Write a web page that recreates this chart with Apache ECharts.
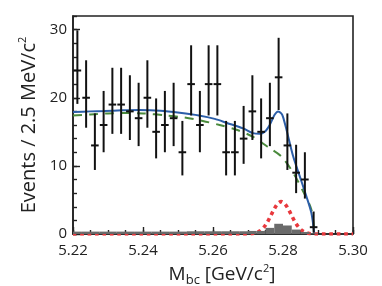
<!DOCTYPE html>
<html><head><meta charset="utf-8">
<script src="https://cdn.jsdelivr.net/npm/echarts@6/dist/echarts.min.js"></script>
<style>html,body{margin:0;padding:0;background:#fff}#c{width:382px;height:286px}</style>
</head><body><div id="c"></div><script>
// ---- data ----
const binCenters = [5.22125,5.22375,5.22625,5.22875,5.23125,5.23375,5.23625,5.23875,5.24125,5.24375,5.24625,5.24875,5.25125,5.25375,5.25625,5.25875,5.26125,5.26375,5.26625,5.26875,5.27125,5.27375,5.27625,5.27875,5.28125,5.28375,5.28625,5.28875];
const counts  = [24,20,13,16,19,19,18,17,20,15,16,17,12,22,16,22,22,12,12,14,18,15,17,23,13,9,8,1];
const errLow  = [19.1,15.6,9.4,12.0,14.7,14.7,13.8,12.9,15.6,11.1,12.0,12.9,8.6,17.4,12.0,17.4,17.4,8.6,8.6,10.3,13.8,11.1,12.9,18.2,9.4,6.0,5.2,0.2];
const errHigh = [29.9,25.5,17.7,21.0,24.4,24.4,23.3,22.2,25.5,19.9,21.0,22.2,16.6,27.7,21.0,27.7,27.7,16.6,16.6,18.8,23.3,19.9,22.2,28.8,17.7,13.1,12.0,3.3];
const peakingBkg = [0.35,0.35,0.35,0.35,0.35,0.35,0.35,0.35,0.35,0.35,0.35,0.35,0.35,0.4,0.4,0.4,0.4,0.4,0.4,0.4,0.45,0.45,0.9,1.5,1.25,0.65,0.3,0.1];
const binHalfWidth = 0.00125;

const totalX = [5.2200,5.2250,5.2290,5.2340,5.2390,5.2450,5.2505,5.2560,5.2605,5.2640,5.2686,5.2714,5.2733,5.2748,5.2762,5.2776,5.2786,5.2795,5.2800,5.2810,5.2829,5.2848,5.2867,5.2881,5.2889];
const totalY = [17.9,18.0,18.05,18.15,18.2,18.1,17.8,17.4,16.9,16.3,15.5,14.8,14.7,15.0,16.0,17.5,18.0,17.7,17.2,15.3,11.4,8.45,5.5,3.1,0.2];

const bkgX = [5.2200,5.2250,5.2300,5.2350,5.2400,5.2467,5.2519,5.2571,5.2619,5.2667,5.2713,5.2756,5.2795,5.2829,5.2857,5.2881,5.2889];
const bkgY = [17.4,17.55,17.7,17.75,17.7,17.4,17.1,16.6,16.0,15.3,14.3,12.8,11.4,9.0,6.3,3.6,0.6];

const sigX = [5.2200,5.2680,5.2715,5.2725,5.2735,5.2745,5.2755,5.2765,5.2775,5.2785,5.2795,5.2805,5.2815,5.2825,5.2835,5.2845,5.2855,5.2865,5.2875,5.2890,5.3000];
const sigY = [0,0,0.08,0.21,0.48,0.97,1.71,2.68,3.68,4.46,4.75,4.46,3.68,2.68,1.71,0.97,0.48,0.21,0.08,0,0];

const xTickLabels = ['5.22','5.24','5.26','5.28','5.30'];
const yTickLabels = ['0','10','20','30'];

// ---- chart ----
const FONT = 'Open Sans';
const zip = (a,b) => a.map((v,i)=>[v,b[i]]);
const chart = echarts.init(document.getElementById('c'), null, {renderer:'canvas'});
const axisCommon = {type:'value', min:5.22, max:5.30, splitLine:{show:false}};
chart.setOption({
  animation:false,
  backgroundColor:'#fff',
  grid:{left:73, right:29, top:16, bottom:52, outerBoundsMode:'none', containLabel:false,
    show:true, borderColor:'#222', borderWidth:1.6, backgroundColor:'transparent'},
  xAxis:[
    Object.assign({}, axisCommon, {
      position:'bottom', interval:0.02,
      axisLine:{show:true, lineStyle:{color:'#222', width:1.6}},
      axisTick:{show:true, inside:true, length:7, lineStyle:{color:'#222', width:1.4}},
      axisLabel:{margin:9, color:'#222', fontSize:15, fontFamily:FONT,
        formatter:v=>{const s=v.toFixed(2); return xTickLabels.includes(s)?s:'';}},
      name:'{t|M}{b|bc}{t| [GeV/c}{s|2}{t|]}', nameLocation:'middle', nameGap:28,
      nameTextStyle:{padding:[0,0,0,18], rich:{
        t:{fontSize:19, fontFamily:FONT, color:'#222', lineHeight:24},
        b:{fontSize:13, fontFamily:FONT, color:'#222', verticalAlign:'bottom', lineHeight:18},
        s:{fontSize:11, fontFamily:FONT, color:'#222', verticalAlign:'top', lineHeight:14}}}
    }),
    Object.assign({}, axisCommon, {
      position:'bottom', interval:0.005,
      axisLine:{show:false},
      axisTick:{show:true, inside:true, length:4, lineStyle:{color:'#222', width:1.4}},
      axisLabel:{show:false}
    })
  ],
  yAxis:[
    {type:'value', min:0, max:32, interval:10, position:'left', splitLine:{show:false},
      axisLine:{show:true, lineStyle:{color:'#222', width:1.6}},
      axisTick:{show:true, inside:true, length:7, lineStyle:{color:'#222', width:1.4}},
      axisLabel:{margin:6, color:'#222', fontSize:15, fontFamily:FONT, showMaxLabel:false,
        formatter:v=>{const s=String(v); return yTickLabels.includes(s)?s:'';}},
      name:'{t|Events / 2.5 MeV/c}{s|2}', nameLocation:'middle', nameRotate:90, nameGap:27,
      nameTextStyle:{rich:{
        t:{fontSize:20, fontFamily:FONT, color:'#222', lineHeight:24},
        s:{fontSize:11, fontFamily:FONT, color:'#222', verticalAlign:'top', lineHeight:14}}}
    },
    {type:'value', min:0, max:32, interval:2, position:'left', splitLine:{show:false},
      axisLine:{show:false},
      axisTick:{show:true, inside:true, length:4, lineStyle:{color:'#222', width:1.4}},
      axisLabel:{show:false}
    }
  ],
  series:[
    {type:'line', name:'signal', xAxisIndex:0, yAxisIndex:0, z:2, data:zip(sigX,sigY),
      showSymbol:false, smooth:0.3, lineStyle:{color:'#e8383d', width:3.6, type:[3.6,3.8], cap:'butt'}},
    {type:'custom', name:'peaking', xAxisIndex:0, yAxisIndex:0, z:3,
      data: binCenters.map((x,i)=>[x, peakingBkg[i]]),
      encode:{x:0, y:1},
      renderItem:(params, api)=>{
        const x=api.value(0), h=api.value(1);
        const p0=api.coord([x-binHalfWidth,0]), p1=api.coord([x+binHalfWidth,h]);
        return {type:'rect', shape:{x:p0[0], y:p1[1], width:p1[0]-p0[0], height:p0[1]-p1[1]},
          style:{fill:'#6a6a6a'}};
      }},
    {type:'line', name:'background', xAxisIndex:0, yAxisIndex:0, z:4, data:zip(bkgX,bkgY),
      showSymbol:false, smooth:0.3, lineStyle:{color:'#4a8a3c', width:2, type:[9,7]}},
    {type:'line', name:'total', xAxisIndex:0, yAxisIndex:0, z:5, data:zip(totalX,totalY),
      showSymbol:false, smooth:0.3, lineStyle:{color:'#2c5ea8', width:2}},
    {type:'custom', name:'data', xAxisIndex:0, yAxisIndex:0, z:6,
      data: binCenters.map((x,i)=>[x, counts[i], errLow[i], errHigh[i]]),
      encode:{x:0, y:1},
      renderItem:(params, api)=>{
        const x=api.value(0), y=api.value(1), lo=api.value(2), hi=api.value(3);
        const pt=api.coord([x,hi]), pb=api.coord([x,lo]), pc=api.coord([x,y]);
        return {type:'group', children:[
          {type:'line', shape:{x1:pt[0],y1:pt[1],x2:pb[0],y2:pb[1]}, style:{stroke:'#111', lineWidth:2}},
          {type:'line', shape:{x1:pc[0]-3.8,y1:pc[1],x2:pc[0]+3.8,y2:pc[1]}, style:{stroke:'#111', lineWidth:2}}
        ]};
      }}
  ]
});
</script></body></html>
